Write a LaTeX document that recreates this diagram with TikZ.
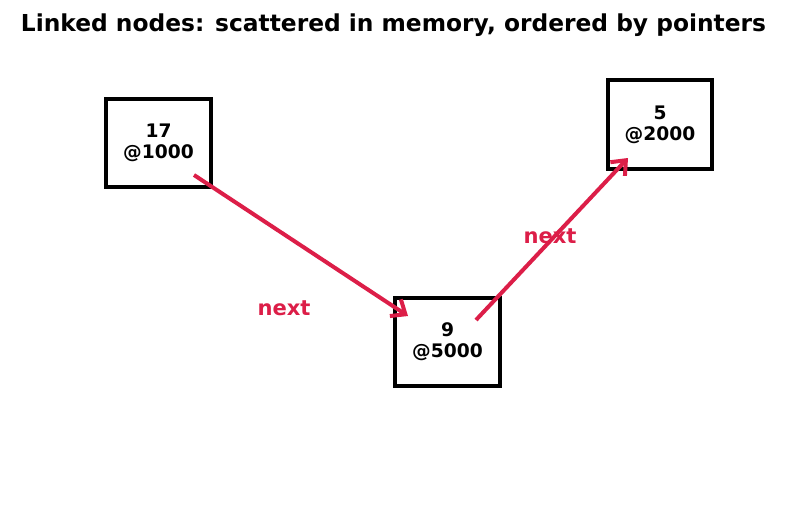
\documentclass[tikz,border=0pt]{standalone}
\usepackage{fontspec}
\setmainfont{DejaVu Sans}
\usetikzlibrary{arrows.meta}
\definecolor{linkred}{RGB}{220,30,72}
\tikzset{
    cell/.style={draw, line width=3pt, minimum width=78.5pt, minimum height=66.5pt, inner sep=0pt, align=center, font=\fontsize{14}{16}\selectfont\bfseries},
    link/.style={linkred, line width=3pt, -{Straight Barb[length=9pt, width=15pt]}},
    linklabel/.style={linkred, font=\fontsize{15.8}{18}\selectfont\bfseries}
}
\begin{document}
\begin{tikzpicture}[x=0.75pt, y=-0.75pt]
    \useasboundingbox (0,0) rectangle (787,510);
    \node[font=\fontsize{17.5}{20}\selectfont\bfseries] (title) at (393.5, 25) {Linked nodes: scattered in memory, ordered by pointers};

    \node[cell] (n17) at (158.5, 143) {17\\@1000};
    \node[cell] (n9) at (447.5, 342) {9\\@5000};
    \node[cell] (n5) at (660, 124.5) {5\\@2000};

    \draw[link] ([shift={(35.5,32)}]n17.center) -- ([shift={(-39.5,-26)}]n9.center);
    \draw[link] ([shift={(28.5,-22)}]n9.center) -- ([shift={(-32,33.5)}]n5.center);

    \node[linklabel] (lab1) at (284, 308) {next};
    \node[linklabel] (lab2) at (550, 236) {next};
\end{tikzpicture}
\end{document}
